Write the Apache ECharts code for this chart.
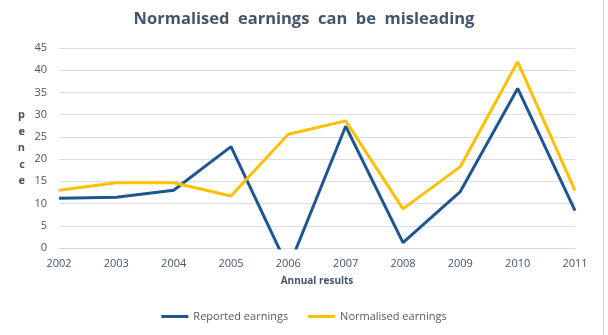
<!DOCTYPE html>
<html>
<head>
<meta charset="utf-8">
<script src="https://cdn.jsdelivr.net/npm/echarts@6/dist/echarts.min.js"></script>
<style>
html,body{margin:0;padding:0;background:#fff;}
#c{width:608px;height:335px;}
#edge{position:absolute;left:603px;top:0;width:1px;height:335px;background:#d0d0d0;}
</style>
</head>
<body>
<div id="c"></div>
<div id="edge"></div>
<script>
const years = ['2002','2003','2004','2005','2006','2007','2008','2009','2010','2011'];
const reported = [11.2, 11.4, 13.0, 22.8, -4.5, 27.4, 1.2, 12.7, 35.9, 8.4];
const normalised = [13.0, 14.7, 14.7, 11.7, 25.6, 28.6, 8.8, 18.3, 41.9, 12.9];
const yTicks = [0, 5, 10, 15, 20, 25, 30, 35, 40, 45];

const font = "'Open Sans', 'Noto Sans', sans-serif";
const chart = echarts.init(document.getElementById('c'));
chart.setOption({
  animation: false,
  title: {
    text: 'Normalised  earnings  can  be  misleading',
    left: 'center',
    top: 6,
    textStyle: {fontFamily: font, fontSize: 16.5, fontWeight: 'bold', color: '#44546a'}
  },
  legend: {
    bottom: 8,
    left: 'center',
    icon: 'rect',
    itemWidth: 27,
    itemHeight: 3,
    itemGap: 20,
    textStyle: {fontFamily: font, fontSize: 11, color: '#595959'},
    data: ['Reported earnings', 'Normalised earnings']
  },
  grid: {left: 59, right: 33, top: 48, bottom: 87},
  xAxis: {
    type: 'category',
    data: years,
    boundaryGap: false,
    name: 'Annual results',
    nameLocation: 'middle',
    nameGap: 28,
    nameTextStyle: {fontFamily: font, fontSize: 10, fontWeight: 'bold', color: '#44546a'},
    axisLine: {lineStyle: {color: '#d9d9d9'}},
    axisTick: {show: false},
    axisLabel: {fontFamily: font, fontSize: 11, color: '#44546a', margin: 10}
  },
  yAxis: {
    type: 'value',
    min: yTicks[0],
    max: yTicks[yTicks.length - 1],
    interval: 5,
    name: 'p\ne\nn\nc\ne',
    nameLocation: 'middle',
    nameRotate: 0,
    nameGap: 34,
    nameTextStyle: {fontFamily: font, fontSize: 11, fontWeight: 'bold', color: '#44546a', lineHeight: 16.5},
    axisLine: {show: false},
    axisTick: {show: false},
    splitLine: {lineStyle: {color: '#d9dde6', width: 1}},
    axisLabel: {fontFamily: font, fontSize: 11, color: '#44546a', margin: 12}
  },
  series: [
    {
      name: 'Reported earnings',
      type: 'line',
      data: reported,
      symbol: 'none',
      clip: true,
      lineStyle: {color: '#1f5591', width: 3},
      itemStyle: {color: '#1f5591'}
    },
    {
      name: 'Normalised earnings',
      type: 'line',
      data: normalised,
      symbol: 'none',
      clip: true,
      lineStyle: {color: '#ffc000', width: 3},
      itemStyle: {color: '#ffc000'}
    }
  ]
});
</script>
</body>
</html>
